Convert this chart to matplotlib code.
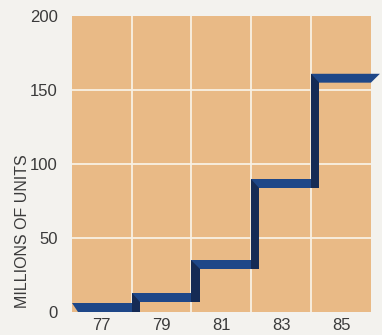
import matplotlib
matplotlib.use("Agg")
import matplotlib.pyplot as plt
from matplotlib.patches import Polygon

# Data
edges = [76, 78, 80, 82, 84, 86]          # year boundaries of each step
values = [3, 10, 32, 87, 158]             # millions of units per step
xtick_pos = [77, 79, 81, 83, 85]
xtick_labels = ["77", "79", "81", "83", "85"]
yticks = [0, 50, 100, 150, 200]

TH = 6.0      # ribbon thickness (data units)
RW = 0.27     # riser width (years)
TIP = 0.3     # end slant

BG = "#f3f2ee"
TAN = "#e9ba86"
BLUE = "#1e4788"
NAVY = "#152b55"
TXT = "#3a3a3a"

plt.rcParams['font.family'] = ['Liberation Sans Narrow', 'Liberation Sans', 'DejaVu Sans']

fig = plt.figure(figsize=(3.82, 3.35), dpi=100, facecolor=BG)
ax = fig.add_axes([0.188, 0.0687, 0.783, 0.8833])
ax.set_facecolor(TAN)
ax.set_xlim(76, 86)
ax.set_ylim(0, 200)

for s in ax.spines.values():
    s.set_visible(False)

ax.set_xticks(xtick_pos)
ax.set_xticklabels(xtick_labels)
ax.set_yticks(yticks)
ax.tick_params(axis='both', which='both', length=0, labelsize=12, colors=TXT)
ax.tick_params(axis='x', pad=4)
ax.tick_params(axis='y', pad=10)
ax.grid(False)
for yv in yticks[1:-1]:
    ax.axhline(yv, color="#f8f1e4", lw=1.3, zorder=1)
for xv in edges[1:-1]:
    ax.axvline(xv, color="#f8f1e4", lw=1.3, zorder=1)

n = len(values)
for i, v in enumerate(values):
    x0 = edges[i]
    x1 = edges[i + 1]
    top = v + TH / 2
    bot = v - TH / 2
    if i < n - 1:
        xr_top = x1
        xr_bot = x1
    else:
        xr_top = x1 + TIP
        xr_bot = x1
    if i == 0:
        xl_top = x0
        xl_bot = x0 + 0.2
    else:
        xl_top = x0
        xl_bot = x0 + RW
    if i > 0:
        pv = values[i - 1]
        ax.add_patch(Polygon([(x0, pv - TH / 2), (x0 + RW, pv - TH / 2),
                              (x0 + RW, top), (x0, top)],
                             closed=True, facecolor=NAVY, edgecolor='none',
                             zorder=3, clip_on=False))
    ax.add_patch(Polygon([(xl_top, top), (xr_top, top), (xr_bot, bot), (xl_bot, bot)],
                         closed=True, facecolor=BLUE, edgecolor='none',
                         zorder=4, clip_on=False))
    if i > 0:
        ax.add_patch(Polygon([(x0, bot), (x0 + RW, bot), (x0 + RW, values[i - 1] + TH / 2),
                              (x0, values[i - 1] + TH / 2)],
                             closed=True, facecolor=NAVY, edgecolor='none',
                             zorder=5, clip_on=False))

ax.set_ylabel("MILLIONS OF UNITS", fontsize=11.5, color=TXT, loc='bottom')
ax.yaxis.set_label_coords(-0.14, 0.012)

fig.savefig("out.png", dpi=100, facecolor=BG)
